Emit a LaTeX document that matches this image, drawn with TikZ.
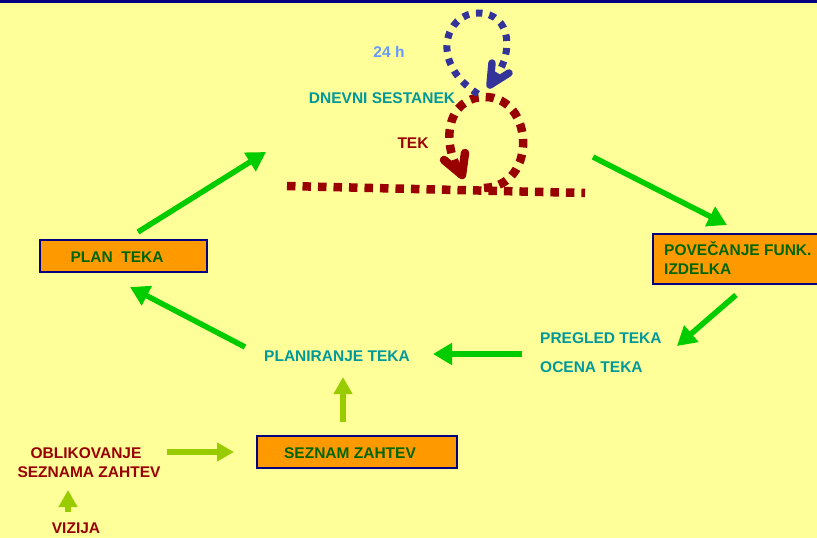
\documentclass[tikz,border=0pt]{standalone}
\usepackage{fontspec}
\setmainfont{Liberation Sans}
\usetikzlibrary{arrows.meta}
\definecolor{bgy}{HTML}{FFFF99}
\definecolor{navyb}{HTML}{000080}
\definecolor{boxor}{HTML}{FF9900}
\definecolor{txgreen}{HTML}{006600}
\definecolor{txteal}{HTML}{009999}
\definecolor{txred}{HTML}{990000}
\definecolor{txblue}{HTML}{6699FF}
\definecolor{loopblue}{HTML}{333399}
\definecolor{arrgreen}{HTML}{00CC00}
\definecolor{arrlime}{HTML}{99CC00}
\tikzset{
  lbl/.style={font=\fontsize{15.5}{18}\selectfont\bfseries, inner sep=0pt, anchor=base},
  stepbox/.style={draw=navyb, line width=2.2pt, fill=boxor, inner sep=0pt},
  garrow/.style={draw=arrgreen, line width=5.5pt, -{Triangle[length=19pt,width=21pt]}},
  larrow/.style={draw=arrlime, line width=6pt, -{Triangle[length=17pt,width=18pt]}},
  redloop/.style={draw=txred, line width=8.5pt, dash pattern=on 8.5pt off 7pt},
  blueloop/.style={draw=loopblue, line width=7pt, dash pattern=on 6.5pt off 7pt},
  chevron/.style={line width=#1, line cap=round, line join=round},
}
\begin{document}
\begin{tikzpicture}[x=1pt,y=-1pt]
\fill[bgy] (0,0) rectangle (817,538);
\useasboundingbox (0,0) rectangle (817,538);
\fill[navyb] (0,0) rectangle (817,3);

% boxes
\node[stepbox, minimum width=167pt, minimum height=32pt] (plan) at (123.5,256) {};
\node[stepbox, minimum width=175pt, minimum height=50pt, anchor=north west] (pov) at (652,233) {};
\node[stepbox, minimum width=200pt, minimum height=32pt] (sez) at (357,452) {};

% texts
\node[lbl, text=txgreen] (tplan) at (117,262) {PLAN\ \ TEKA};
\node[lbl, text=txgreen, anchor=base west] (tpov1) at (664,255) {POVEČANJE FUNK.};
\node[lbl, text=txgreen, anchor=base west] (tpov2) at (664,274) {IZDELKA};
\node[lbl, text=txgreen] (tsez) at (350,458) {SEZNAM ZAHTEV};
\node[lbl, text=txblue] (t24) at (389,57) {24 h};
\node[lbl, text=txteal] (tdnev) at (382,103) {DNEVNI SESTANEK};
\node[lbl, text=txred] (ttek) at (413,148) {TEK};
\node[lbl, text=txteal, anchor=base west] (tpreg) at (540,343) {PREGLED TEKA};
\node[lbl, text=txteal, anchor=base west] (toce) at (540,372) {OCENA TEKA};
\node[lbl, text=txteal] (tplanir) at (337,361) {PLANIRANJE TEKA};
\node[lbl, text=txred] (tobl1) at (86,458) {OBLIKOVANJE};
\node[lbl, text=txred] (tobl2) at (89,477) {SEZNAMA ZAHTEV};
\node[lbl, text=txred] (tviz) at (76,533) {VIZIJA};

% arrow end points
\coordinate (a1s) at (138,232); \coordinate (a1e) at (266,152);
\coordinate (a2s) at (593,157); \coordinate (a2e) at (727,225);
\coordinate (a3s) at (736,295); \coordinate (a3e) at (677,346);
\coordinate (a4s) at (522,354); \coordinate (a4e) at (433,354);
\coordinate (a5s) at (245,347); \coordinate (a5e) at (130,287);
\coordinate (b1s) at (343,422); \coordinate (b1e) at (343,377);
\coordinate (b2s) at (167,452); \coordinate (b2e) at (234,452);
\coordinate (b3s) at (68,512); \coordinate (b3e) at (68,490);

\draw[garrow] (a1s) -- (a1e);
\draw[garrow] (a2s) -- (a2e);
\draw[garrow] (a3s) -- (a3e);
\draw[garrow] (a4s) -- (a4e);
\draw[garrow] (a5s) -- (a5e);
\draw[larrow] (b1s) -- (b1e);
\draw[larrow] (b2s) -- (b2e);
\draw[larrow] (b3s) -- (b3e);

% dotted time line and loops
\coordinate (hl) at (287,186); \coordinate (hr) at (585,193);
\draw[redloop] (hl) -- (hr);
\coordinate (rs) at (484,188);
\coordinate (rt) at (462,175);
\draw[redloop]
  (rs) .. controls (538,186) and (534,97) .. (485,97)
       .. controls (446,97) and (440,145) .. (rt);
\coordinate (rl) at (444,160); \coordinate (rr) at (465,153);
\draw[txred, chevron=8.5pt] (rl) -- (rt) -- (rr);

\coordinate (bs) at (478,94);
\coordinate (bt) at (490,85);
\draw[blueloop]
  (bs) .. controls (428,62) and (446,13) .. (478,13)
       .. controls (512,13) and (516,55) .. (bt);
\coordinate (bl) at (492,63); \coordinate (br) at (509,73);
\draw[loopblue, chevron=7.5pt] (bl) -- (bt) -- (br);
\end{tikzpicture}
\end{document}
